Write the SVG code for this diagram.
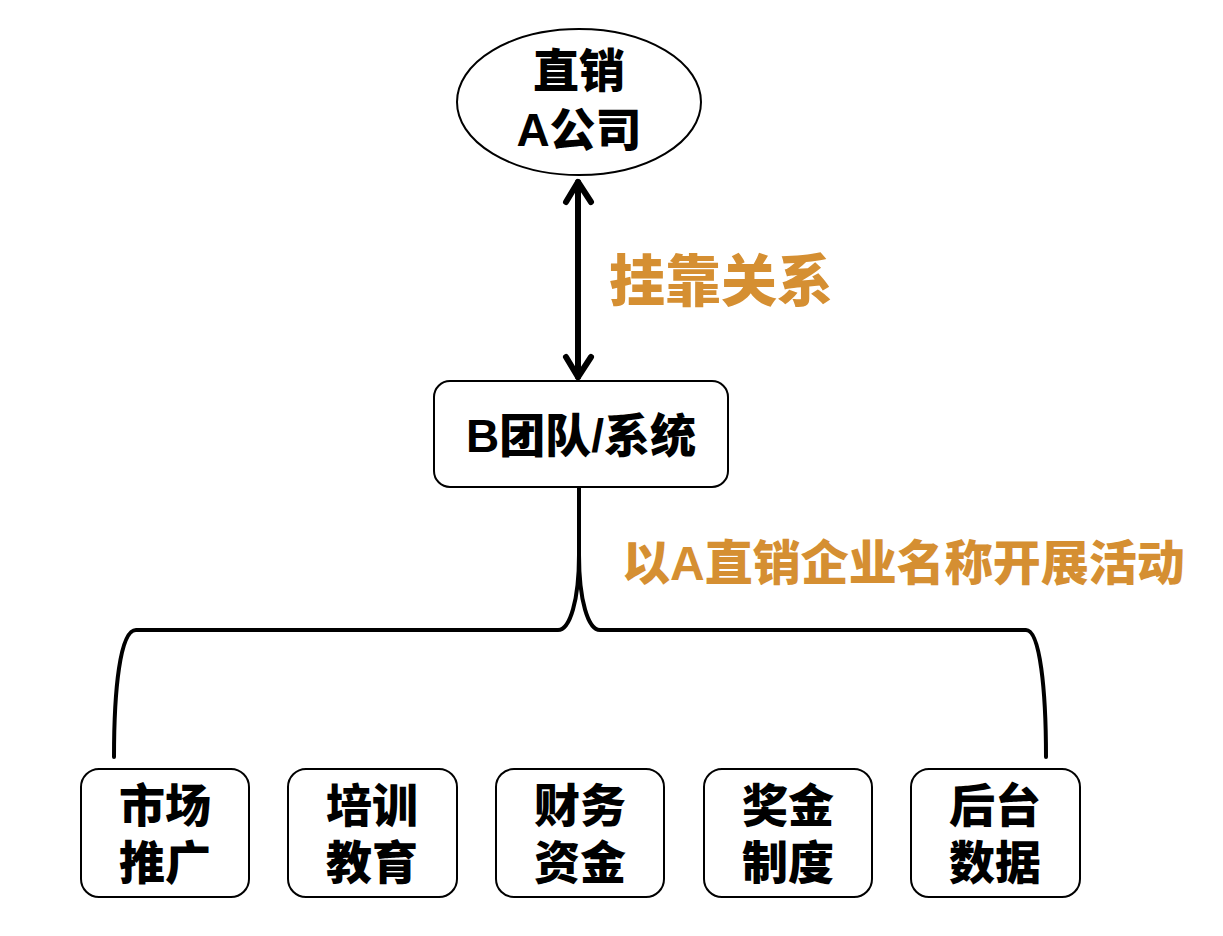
<svg xmlns="http://www.w3.org/2000/svg" width="1223" height="936" viewBox="0 0 1223 936">
<style>
.box{fill:#fff;stroke:#000;stroke-width:2}
.t{font-family:"Liberation Sans","Noto Sans CJK SC",sans-serif;font-weight:900;fill:#000;text-anchor:middle}
.o{font-family:"Liberation Sans","Noto Sans CJK SC",sans-serif;font-weight:900;fill:#D58F32}
.ln{fill:none;stroke:#000;stroke-linecap:round;stroke-linejoin:round}
</style>
<rect width="1223" height="936" fill="#fff"/>
<g id="connectors">
<path class="ln" d="M578,182 L578,377" stroke-width="6"/>
<path class="ln" d="M566,202 L578,182 L591,202" stroke-width="6"/>
<path class="ln" d="M566,357 L578,377 L591,357" stroke-width="6"/>
<path class="ln" d="M579,488 L579,555 C579,600 570,630 558,630 L136,630 C120,630 114,690 114,757" stroke-width="4" stroke-linecap="butt"/>
<path class="ln" d="M579,555 C579,600 588,630 600,630 L1026,630 C1040,630 1046,690 1046,757" stroke-width="4" stroke-linecap="butt"/>
</g>
<g id="labels">
<text class="o" x="609" y="301" font-size="56">挂靠关系</text>
<text class="o" x="622" y="580" font-size="48">以A直销企业名称开展活动</text>
</g>
<g id="node-a">
<ellipse cx="579" cy="102" rx="122" ry="73" fill="#fff" stroke="#000" stroke-width="2"/>
<text class="t" x="579" y="87" font-size="46">直销</text>
<text class="t" x="579" y="146" font-size="46">A公司</text>
</g>
<g id="node-b">
<rect class="box" x="434" y="381" width="294" height="106" rx="16"/>
<text class="t" x="581" y="452" font-size="46">B团队/系统</text>
</g>
<g id="node-1">
<rect class="box" x="81" y="769" width="168" height="128" rx="18"/>
<text class="t" x="165" y="822" font-size="46">市场</text>
<text class="t" x="165" y="879" font-size="46">推广</text>
</g>
<g id="node-2">
<rect class="box" x="288" y="769" width="169" height="128" rx="18"/>
<text class="t" x="372" y="822" font-size="46">培训</text>
<text class="t" x="372" y="879" font-size="46">教育</text>
</g>
<g id="node-3">
<rect class="box" x="496" y="769" width="168" height="128" rx="18"/>
<text class="t" x="580" y="822" font-size="46">财务</text>
<text class="t" x="580" y="879" font-size="46">资金</text>
</g>
<g id="node-4">
<rect class="box" x="704" y="769" width="168" height="128" rx="18"/>
<text class="t" x="788" y="822" font-size="46">奖金</text>
<text class="t" x="788" y="879" font-size="46">制度</text>
</g>
<g id="node-5">
<rect class="box" x="911" y="769" width="169" height="128" rx="18"/>
<text class="t" x="995" y="822" font-size="46">后台</text>
<text class="t" x="995" y="879" font-size="46">数据</text>
</g>
</svg>
